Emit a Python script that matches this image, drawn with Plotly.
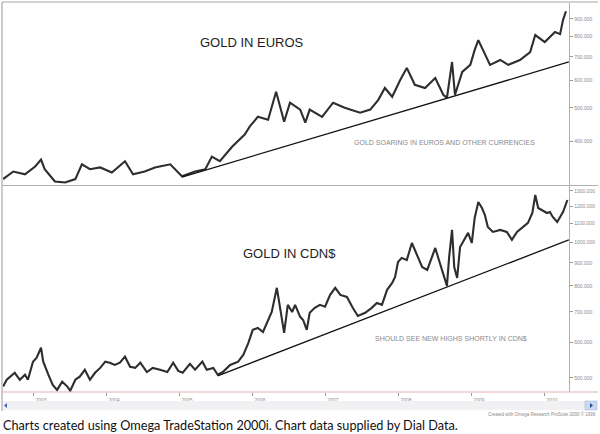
import plotly.graph_objects as go
import math

# ---------------- data ----------------
euro_years = [2002.59, 2002.73, 2002.89, 2003.03, 2003.11, 2003.16, 2003.30, 2003.44, 2003.58, 2003.67,
              2003.78, 2003.92, 2004.08, 2004.26, 2004.37, 2004.53, 2004.67, 2004.88, 2005.04, 2005.22,
              2005.36, 2005.45, 2005.56, 2005.73, 2005.90, 2005.97, 2006.08, 2006.22, 2006.33, 2006.44,
              2006.52, 2006.66, 2006.73, 2006.79, 2006.96, 2007.11, 2007.27, 2007.48, 2007.62, 2007.73,
              2007.82, 2007.92, 2008.03, 2008.12, 2008.23, 2008.37, 2008.51, 2008.62, 2008.67, 2008.74,
              2008.78, 2008.88, 2008.99, 2009.05, 2009.10, 2009.19, 2009.26, 2009.40, 2009.51, 2009.67,
              2009.81, 2009.88, 2010.01, 2010.15, 2010.22, 2010.26, 2010.30]
euro_values = [312, 328, 322, 339, 355, 333, 307, 305, 312, 344,
               333, 337, 326, 351, 322, 328, 337, 344, 318, 328,
               333, 362, 351, 387, 419, 442, 471, 462, 556, 456,
               517, 494, 453, 494, 471, 517, 500, 484, 494, 527,
               570, 538, 601, 651, 582, 570, 609, 545, 534, 677,
               545, 634, 664, 733, 782, 709, 664, 686, 664, 686,
               723, 809, 772, 825, 814, 893, 947]

cad_years = [2002.59, 2002.64, 2002.75, 2002.82, 2002.89, 2002.93, 2003.00, 2003.05, 2003.11, 2003.14,
             2003.21, 2003.27, 2003.33, 2003.40, 2003.47, 2003.51, 2003.58, 2003.64, 2003.71, 2003.78,
             2003.85, 2003.92, 2003.99, 2004.05, 2004.12, 2004.19, 2004.26, 2004.33, 2004.40, 2004.47,
             2004.56, 2004.64, 2004.74, 2004.84, 2004.92, 2004.99, 2005.05, 2005.15, 2005.22, 2005.32,
             2005.38, 2005.47, 2005.53, 2005.60, 2005.70, 2005.81, 2005.88, 2005.95, 2006.01, 2006.08,
             2006.15, 2006.22, 2006.27, 2006.34, 2006.41, 2006.44, 2006.49, 2006.55, 2006.59, 2006.66,
             2006.70, 2006.75, 2006.79, 2006.86, 2006.93, 2007.00, 2007.07, 2007.14, 2007.21, 2007.30,
             2007.38, 2007.45, 2007.55, 2007.64, 2007.71, 2007.78, 2007.85, 2007.92, 2007.96, 2008.00,
             2008.05, 2008.12, 2008.19, 2008.26, 2008.33, 2008.40, 2008.47, 2008.51, 2008.56, 2008.62,
             2008.67, 2008.70, 2008.74, 2008.77, 2008.81, 2008.85, 2008.92, 2008.96, 2009.01, 2009.05,
             2009.10, 2009.15, 2009.19, 2009.23, 2009.30, 2009.40, 2009.49, 2009.56, 2009.63, 2009.71,
             2009.78, 2009.84, 2009.88, 2009.92, 2009.97, 2010.04, 2010.08, 2010.12, 2010.18, 2010.22,
             2010.26, 2010.32]
cad_values = [478, 495, 513, 495, 508, 495, 543, 554, 583, 543,
              508, 482, 470, 490, 478, 468, 495, 503, 521, 495,
              513, 526, 543, 540, 534, 540, 557, 529, 526, 540,
              515, 526, 521, 515, 540, 518, 513, 537, 521, 543,
              521, 526, 508, 515, 534, 543, 562, 598, 639, 645,
              632, 672, 700, 792, 683, 629, 726, 700, 726, 683,
              672, 639, 697, 715, 726, 719, 764, 792, 764, 756,
              715, 686, 697, 715, 733, 726, 784, 812, 837, 904,
              923, 913, 996, 937, 881, 868, 937, 971, 913, 855,
              800, 927, 1065, 881, 833, 976, 1022, 1049, 996, 1132,
              1228, 1191, 1149, 1081, 1054, 1065, 1054, 1012, 1054, 1081,
              1104, 1161, 1273, 1191, 1179, 1161, 1167, 1138, 1109, 1138,
              1167, 1241]

euro_trend_years = [2005.04, 2010.34]
euro_trend_values = [316, 677]
cad_trend_years = [2005.53, 2010.34]
cad_trend_values = [505, 1012]

year_ticks = [2003, 2004, 2005, 2006, 2007, 2008, 2009, 2010]
year_labels = [str(y) for y in year_ticks]
euro_ticks = [400, 500, 600, 700, 800, 900]
cad_ticks = [500, 600, 700, 800, 900, 1000, 1100, 1200, 1300]

# ---------------- layout helpers ----------------
W, H = 600, 434
def px(x):
    return x / W
def py(y):
    return 1 - y / H

x_range = [2002.589, 2010.342]
line_col = "#2e2e2e"
tick_font = dict(family="Liberation Sans, Arial, sans-serif", size=5, color="#8c8c8c")

fig = go.Figure()
fig.add_trace(go.Scatter(x=euro_years, y=euro_values, mode="lines",
                         line=dict(color=line_col, width=2.1), xaxis="x", yaxis="y",
                         showlegend=False, hoverinfo="skip"))
fig.add_trace(go.Scatter(x=euro_trend_years, y=euro_trend_values, mode="lines",
                         line=dict(color="#111111", width=1.3), xaxis="x", yaxis="y",
                         showlegend=False, hoverinfo="skip"))
fig.add_trace(go.Scatter(x=cad_years, y=cad_values, mode="lines",
                         line=dict(color=line_col, width=2.1), xaxis="x2", yaxis="y2",
                         showlegend=False, hoverinfo="skip"))
fig.add_trace(go.Scatter(x=cad_trend_years, y=cad_trend_values, mode="lines",
                         line=dict(color="#111111", width=1.3), xaxis="x2", yaxis="y2",
                         showlegend=False, hoverinfo="skip"))

fig.update_layout(
    width=W, height=H,
    margin=dict(l=0, r=0, t=0, b=0),
    paper_bgcolor="white", plot_bgcolor="white",
    hovermode=False,
    xaxis=dict(domain=[px(3), px(569)], range=x_range, anchor="y",
               showgrid=False, zeroline=False, showticklabels=False, ticks="", showline=False),
    yaxis=dict(domain=[py(185), py(3)], type="log",
               range=[math.log10(300), math.log10(1000)], anchor="x", side="right",
               tickvals=euro_ticks, ticktext=[f"{v:.3f}" for v in euro_ticks],
               ticks="outside", ticklen=3, tickcolor="#9a9a9a", tickfont=tick_font,
               showgrid=False, zeroline=False, showline=True, linecolor="#e59a9a", linewidth=1.2),
    xaxis2=dict(domain=[px(3), px(569)], range=x_range, anchor="y2",
                tickvals=year_ticks, ticktext=year_labels, ticks="outside", ticklen=3,
                tickcolor="#9a9a9a", tickfont=tick_font, ticklabelshift=8, ticklabelstandoff=0,
                showgrid=False, zeroline=False, showline=False),
    yaxis2=dict(domain=[py(392), py(186)], type="log",
                range=[math.log10(465), math.log10(1333)], anchor="x2", side="right",
                tickvals=cad_ticks, ticktext=[f"{v:.3f}" for v in cad_ticks],
                ticks="outside", ticklen=3, tickcolor="#9a9a9a", tickfont=tick_font,
                showgrid=False, zeroline=False, showline=True, linecolor="#e59a9a", linewidth=1.2),
)

shapes = [
    # frame lines
    dict(type="line", xref="paper", yref="paper", x0=px(2), x1=px(598), y0=py(2), y1=py(2),
         line=dict(color="#a8a8a8", width=1.2)),
    dict(type="line", xref="paper", yref="paper", x0=px(2), x1=px(2), y0=py(2), y1=py(411),
         line=dict(color="#a8a8a8", width=1.2)),
    dict(type="line", xref="paper", yref="paper", x0=px(2), x1=px(598), y0=py(185.5), y1=py(185.5),
         line=dict(color="#b0b0b0", width=1)),
    dict(type="line", xref="paper", yref="paper", x0=px(2), x1=px(598), y0=py(392), y1=py(392),
         line=dict(color="#e3b0b0", width=1.2)),
    # scroll bar
    dict(type="rect", xref="paper", yref="paper", x0=px(3), x1=px(597), y0=py(410), y1=py(401),
         fillcolor="#f1f1f3", line=dict(width=0)),
    dict(type="rect", xref="paper", yref="paper", x0=px(585), x1=px(597), y0=py(410), y1=py(401),
         fillcolor="#cbd9ef", line=dict(color="#aab8d8", width=0.6)),
    dict(type="path", xref="paper", yref="paper",
         path=f"M {px(590)} {py(403)} L {px(593)} {py(405.5)} L {px(590)} {py(408)} Z",
         fillcolor="#2a4d9a", line=dict(width=0)),
    dict(type="path", xref="paper", yref="paper",
         path=f"M {px(7)} {py(403)} L {px(4)} {py(405.5)} L {px(7)} {py(408)} Z",
         fillcolor="#3a64c0", line=dict(width=0)),
]
fig.update_layout(shapes=shapes)

title_font = dict(family="Liberation Sans, Arial, sans-serif", size=13, color="#1e1e1e")
note_font = dict(family="Liberation Sans, Arial, sans-serif", size=7, color="#8a8a8a")
annotations = [
    dict(text="GOLD IN EUROS", x=px(198), y=py(43), xref="paper", yref="paper",
         xanchor="left", yanchor="middle", showarrow=False, font=title_font),
    dict(text="GOLD SOARING IN EUROS AND OTHER CURRENCIES", x=px(352), y=py(142),
         xref="paper", yref="paper", xanchor="left", yanchor="middle", showarrow=False, font=note_font),
    dict(text="GOLD IN CDN$", x=px(241), y=py(253), xref="paper", yref="paper",
         xanchor="left", yanchor="middle", showarrow=False, font=title_font),
    dict(text="SHOULD SEE NEW HIGHS SHORTLY IN CDN$", x=px(373), y=py(338),
         xref="paper", yref="paper", xanchor="left", yanchor="middle", showarrow=False, font=note_font),
    dict(text="Created with Omega Research ProSuite 2000 © 1999", x=px(598), y=py(414),
         xref="paper", yref="paper", xanchor="right", yanchor="middle", showarrow=False,
         font=dict(family="Liberation Sans, Arial, sans-serif", size=4.5, color="#8a8a8a")),
    dict(text="Charts created using Omega TradeStation 2000i. Chart data supplied by Dial Data.",
         x=px(1), y=py(425), xref="paper", yref="paper", xanchor="left", yanchor="middle",
         showarrow=False, font=dict(family="Lato, Open Sans, sans-serif", size=12.7, color="#111111")),
]
fig.update_layout(annotations=annotations)

fig.write_html("out.html", config={"displayModeBar": False, "staticPlot": True},
               post_script="document.body.style.margin='0';document.body.style.overflow='hidden';")
